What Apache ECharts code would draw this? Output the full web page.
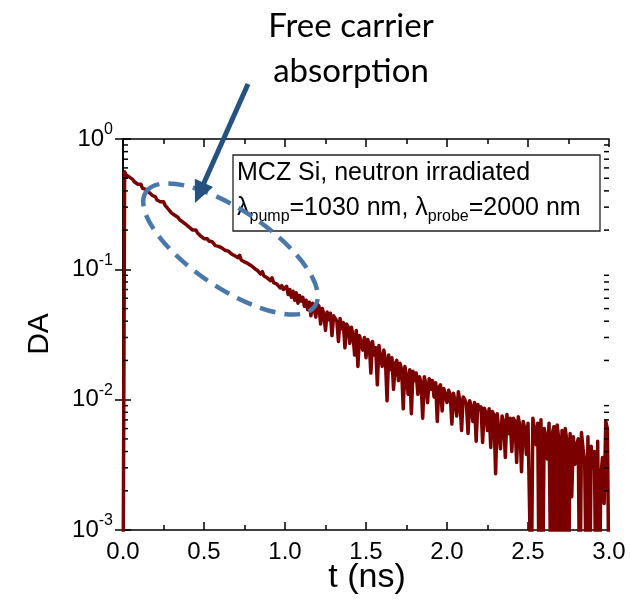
<!DOCTYPE html>
<html><head><meta charset="utf-8">
<script src="https://cdn.jsdelivr.net/npm/echarts@6/dist/echarts.min.js"></script>
<style>html,body{margin:0;padding:0;background:#fff}#c{width:630px;height:605px}</style>
</head><body><div id="c"></div>
<script>
// ---- data ----
const times = [0,
0.01,0.02,0.03,0.04,0.05,0.06,0.07,0.08,0.09,0.10,
0.11,0.12,0.13,0.14,0.15,0.16,0.17,0.18,0.19,0.20,
0.21,0.22,0.23,0.24,0.25,0.26,0.27,0.28,0.29,0.30,
0.31,0.32,0.33,0.34,0.35,0.36,0.37,0.38,0.39,0.40,
0.41,0.42,0.43,0.44,0.45,0.46,0.47,0.48,0.49,0.50,
0.51,0.52,0.53,0.54,0.55,0.56,0.57,0.58,0.59,0.60,
0.61,0.62,0.63,0.64,0.65,0.66,0.67,0.68,0.69,0.70,
0.71,0.72,0.73,0.74,0.75,0.76,0.77,0.78,0.79,0.80,
0.81,0.82,0.83,0.84,0.85,0.86,0.87,0.88,0.89,0.90,
0.91,0.92,0.93,0.94,0.95,0.96,0.97,0.98,0.99,1.00,
1.01,1.02,1.03,1.04,1.05,1.06,1.07,1.08,1.09,1.10,
1.11,1.12,1.13,1.14,1.15,1.16,1.17,1.18,1.19,1.20,
1.21,1.22,1.23,1.24,1.25,1.26,1.27,1.28,1.29,1.30,
1.31,1.32,1.33,1.34,1.35,1.36,1.37,1.38,1.39,1.40,
1.41,1.42,1.43,1.44,1.45,1.46,1.47,1.48,1.49,1.50,
1.51,1.52,1.53,1.54,1.55,1.56,1.57,1.58,1.59,1.60,
1.61,1.62,1.63,1.64,1.65,1.66,1.67,1.68,1.69,1.70,
1.71,1.72,1.73,1.74,1.75,1.76,1.77,1.78,1.79,1.80,
1.81,1.82,1.83,1.84,1.85,1.86,1.87,1.88,1.89,1.90,
1.91,1.92,1.93,1.94,1.95,1.96,1.97,1.98,1.99,2.00,
2.01,2.02,2.03,2.04,2.05,2.06,2.07,2.08,2.09,2.10,
2.11,2.12,2.13,2.14,2.15,2.16,2.17,2.18,2.19,2.20,
2.21,2.22,2.23,2.24,2.25,2.26,2.27,2.28,2.29,2.30,
2.31,2.32,2.33,2.34,2.35,2.36,2.37,2.38,2.39,2.40,
2.41,2.42,2.43,2.44,2.45,2.46,2.47,2.48,2.49,2.50,
2.51,2.52,2.53,2.54,2.55,2.56,2.57,2.58,2.59,2.60,
2.61,2.62,2.63,2.64,2.65,2.66,2.67,2.68,2.69,2.70,
2.71,2.72,2.73,2.74,2.75,2.76,2.77,2.78,2.79,2.80,
2.81,2.82,2.83,2.84,2.85,2.86,2.87,2.88,2.89,2.90,
2.91,2.92,2.93,2.94,2.95,2.96,2.97,2.98,2.99,3.00];
const da = [0.0002,
0.56,0.53,0.54,0.51,0.52,0.49,0.47,0.48,0.45,0.44,
0.45,0.42,0.43,0.41,0.40,0.39,0.40,0.37,0.36,0.36,
0.34,0.35,0.33,0.32,0.33,0.31,0.30,0.29,0.285,0.27,
0.27,0.26,0.265,0.25,0.24,0.245,0.23,0.235,0.22,0.215,
0.21,0.215,0.20,0.195,0.20,0.19,0.185,0.18,0.182,0.172,
0.17,0.172,0.165,0.16,0.163,0.158,0.152,0.156,0.15,0.149,
0.146,0.150,0.140,0.142,0.138,0.137,0.131,0.134,0.127,0.130,
0.123,0.128,0.118,0.122,0.114,0.117,0.111,0.112,0.107,0.108,
0.102,0.104,0.098,0.100,0.092,0.096,0.089,0.092,0.086,0.087,
0.082,0.086,0.079,0.081,0.077,0.078,0.072,0.075,0.070,0.072,
0.074,0.064,0.070,0.061,0.068,0.058,0.066,0.055,0.063,0.057,
0.061,0.052,0.058,0.049,0.056,0.044,0.055,0.050,0.043,0.054,
0.052,0.038,0.050,0.045,0.034,0.047,0.041,0.046,0.031,0.044,
0.043,0.040,0.028,0.042,0.035,0.039,0.025,0.038,0.036,0.027,
0.036,0.031,0.022,0.034,0.018,0.031,0.032,0.024,0.030,0.021,
0.029,0.027,0.016,0.028,0.022,0.025,0.013,0.026,0.021,0.018,
0.024,0.020,0.0098,0.022,0.017,0.021,0.012,0.019,0.020,0.014,
0.019,0.017,0.0085,0.018,0.015,0.011,0.017,0.0078,0.0165,0.014,
0.016,0.011,0.015,0.0135,0.0072,0.015,0.013,0.0095,0.0145,0.012,
0.014,0.0105,0.0135,0.0068,0.0125,0.013,0.0082,0.0122,0.0118,0.0095,
0.0118,0.011,0.0065,0.0112,0.0098,0.0075,0.0115,0.0096,0.0058,0.0105,
0.010,0.0092,0.0055,0.0098,0.0088,0.0068,0.0095,0.0048,0.0092,0.0084,
0.0088,0.0047,0.0086,0.0080,0.0058,0.0085,0.0043,0.0081,0.0076,0.0027,
0.0078,0.0080,0.0042,0.0075,0.0068,0.0036,0.0077,0.0055,0.0072,0.0040,
0.0072,0.0068,0.0033,0.0074,0.0062,0.0028,0.0068,0.0060,0.0038,0.0066,
0.0068,0.0003,0.0072,0.0058,0.0045,0.0066,0.0002,0.0070,0.0003,0.0060,
0.0052,0.0035,0.0066,0.0004,0.0055,0.0062,0.0002,0.0064,0.0050,0.0003,
0.0058,0.0002,0.0060,0.0048,0.0003,0.0055,0.0018,0.0052,0.0032,0.0045,
0.0050,0.0002,0.0056,0.0042,0.0034,0.0003,0.0052,0.0002,0.0044,0.0030,
0.0040,0.0002,0.0048,0.0003,0.0026,0.0036,0.0016,0.0068,0.0060,0.0003];
const xRange = [0, 3];
const xStep = 0.5;
const yRange = [0.001, 1];
const annotation = ['Free carrier', 'absorption'];
const boxLine1 = 'MCZ Si, neutron irradiated';
const xTitle = 't (ns)';
const yTitle = 'DA';

// ---- chart ----
const FONT = 'Liberation Sans';
const chart = echarts.init(document.getElementById('c'), null, {renderer: 'canvas'});
const G = {left: 123, top: 139, right: 21, bottom: 75};
const seriesData = times.map((t, i) => [t, da[i]]);

const axisLineStyle = {color: '#000', width: 1.6};
const xAxisBase = {
  type: 'value', min: xRange[0], max: xRange[1], interval: xStep,
  axisLine: {show: true, lineStyle: axisLineStyle},
  axisTick: {show: true, inside: true, length: 8, lineStyle: {color: '#000', width: 1.5}},
  minorTick: {show: true, splitNumber: 2, length: 5, lineStyle: {color: '#000', width: 1.5}},
  splitLine: {show: false}
};
const yAxisBase = {
  type: 'log', logBase: 10, min: yRange[0], max: yRange[1],
  axisLine: {show: true, lineStyle: axisLineStyle},
  axisTick: {show: true, inside: true, length: 8, lineStyle: {color: '#000', width: 1.5}},
  minorTick: {show: false},
  splitLine: {show: false}
};

chart.setOption({
  animation: false,
  backgroundColor: '#fff',
  grid: G,
  xAxis: [
    Object.assign({}, xAxisBase, {position: 'bottom',
      axisLabel: {show: true, margin: 10, fontSize: 24, fontFamily: FONT, color: '#000',
        formatter: v => v.toFixed(1)}}),
    Object.assign({}, xAxisBase, {position: 'top', axisLabel: {show: false}})
  ],
  yAxis: [
    Object.assign({}, yAxisBase, {position: 'left',
      axisLabel: {show: true, margin: 10, color: '#000',
        formatter: v => '{b|10}{s|' + Math.round(Math.log10(v)) + '}',
        rich: {
          b: {fontSize: 24, fontFamily: FONT, color: '#000', lineHeight: 34, verticalAlign: 'middle'},
          s: {fontSize: 16, fontFamily: FONT, color: '#000', lineHeight: 16, verticalAlign: 'top'}
        }}}),
    Object.assign({}, yAxisBase, {position: 'right', axisLabel: {show: false}})
  ],
  series: [{
    type: 'line', xAxisIndex: 0, yAxisIndex: 0, data: seriesData,
    showSymbol: false, symbol: 'none', clip: true,
    lineStyle: {color: '#7a0000', width: 3.5, join: 'round'},
    z: 3
  }]
});

// ---- annotations and log minor ticks ----
const els = [];
const xL = G.left, xR = 630 - G.right;
for (let k = -3; k < 0; k++) {
  for (let m = 2; m <= 9; m++) {
    const y = chart.convertToPixel({yAxisIndex: 0}, m * Math.pow(10, k));
    els.push({type: 'line', z: 50, shape: {x1: xL, y1: y, x2: xL + 5, y2: y}, style: {stroke: '#000', lineWidth: 1.5}});
    els.push({type: 'line', z: 50, shape: {x1: xR, y1: y, x2: xR - 5, y2: y}, style: {stroke: '#000', lineWidth: 1.5}});
  }
}
// dashed ellipse
els.push({type: 'ellipse', z: 60, x: 230.5, y: 249, rotation: -34 * Math.PI / 180,
  shape: {cx: 0, cy: 0, rx: 102, ry: 39},
  style: {fill: 'none', stroke: '#4a78a8', lineWidth: 4.5, lineDash: [16, 9]}});
// arrow
const ax1 = 248, ay1 = 84, ax2 = 195, ay2 = 203;
const L = Math.hypot(ax2 - ax1, ay2 - ay1), ux = (ax2 - ax1) / L, uy = (ay2 - ay1) / L;
const hl = 22, hw = 10;
const bx = ax2 - ux * hl, by = ay2 - uy * hl;
els.push({type: 'line', z: 60, shape: {x1: ax1, y1: ay1, x2: bx + ux * 2, y2: by + uy * 2},
  style: {stroke: '#25527f', lineWidth: 5}});
els.push({type: 'polygon', z: 60, shape: {points: [[ax2, ay2], [bx - uy * hw, by + ux * hw], [bx + uy * hw, by - ux * hw]]},
  style: {fill: '#25527f'}});
// annotation text
els.push({type: 'text', z: 60, x: 351, y: 26, style: {text: annotation[0], font: '33px Lato', fill: '#000', align: 'center', verticalAlign: 'middle'}});
els.push({type: 'text', z: 60, x: 351, y: 71, style: {text: annotation[1], font: '33px Lato', fill: '#000', align: 'center', verticalAlign: 'middle'}});
// info box
els.push({type: 'rect', z: 55, shape: {x: 233, y: 155, width: 367, height: 76}, style: {fill: '#fff', stroke: '#222', lineWidth: 1.3}});
els.push({type: 'text', z: 56, x: 237, y: 173, style: {text: boxLine1, fontSize: 25, fontFamily: FONT, fill: '#000', align: 'left', verticalAlign: 'middle'}});
els.push({type: 'text', z: 56, x: 237, y: 191, style: {
  text: '{n|λ}{sub|pump}{n|=1030 nm, λ}{sub|probe}{n|=2000 nm}',
  align: 'left', verticalAlign: 'top',
  rich: {
    n: {fontSize: 25, fontFamily: FONT, fill: '#000', lineHeight: 34, verticalAlign: 'middle'},
    sub: {fontSize: 16, fontFamily: FONT, fill: '#000', lineHeight: 13, verticalAlign: 'bottom'}
  }}});
// axis titles
els.push({type: 'text', z: 60, x: 367, y: 578, style: {text: xTitle, fontSize: 34, fontFamily: FONT, fill: '#000', align: 'center', verticalAlign: 'middle'}});
els.push({type: 'text', z: 60, x: 40, y: 334, rotation: Math.PI / 2, style: {text: yTitle, fontSize: 30, fontFamily: FONT, fill: '#000', align: 'center', verticalAlign: 'middle'}});

chart.setOption({graphic: {elements: els}});
</script></body></html>
